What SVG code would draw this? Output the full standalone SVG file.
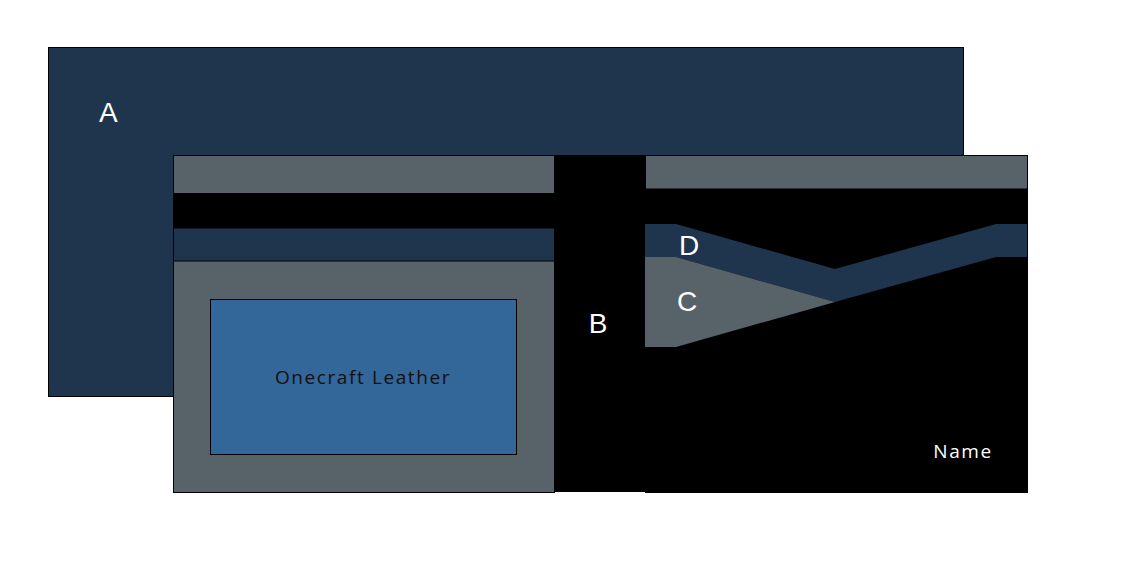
<svg xmlns="http://www.w3.org/2000/svg" width="1122" height="570" viewBox="0 0 1122 570">
<style>
.navy{fill:#1f354d}
.gray{fill:#576369}
.blk{fill:#000}
.edge{stroke:#000;stroke-width:1}
.lbl{font-family:"Liberation Sans",Arial,sans-serif;font-size:28px;fill:#fff}
.txt{font-family:"Open Sans","DejaVu Sans",sans-serif;font-size:19px;letter-spacing:1.6px}
</style>
<rect width="1122" height="570" fill="#fff"/>
<g id="A">
<rect x="48.5" y="47.5" width="915" height="349" class="navy edge"/>
<text x="99" y="122" class="lbl">A</text>
</g>
<g id="left-panel">
<rect x="173.5" y="155.5" width="381" height="337" class="gray edge"/>
<rect x="173.5" y="193" width="381" height="35" class="blk"/>
<rect x="173.5" y="228" width="381" height="33" class="navy edge"/>
<rect x="210.5" y="299.5" width="306" height="155" fill="#336699" class="edge"/>
<text x="363" y="384" text-anchor="middle" class="txt" fill="#111">Onecraft Leather</text>
</g>
<g id="B">
<rect x="554" y="155" width="91" height="337" class="blk"/>
<text x="598" y="333" text-anchor="middle" class="lbl">B</text>
</g>
<g id="right-panel">
<rect x="645.5" y="155.5" width="382" height="337" class="blk edge"/>
<rect x="645.5" y="155.5" width="382" height="33.5" class="gray edge"/>
<g id="D">
<polygon points="645,224 676,224 835,269 996,224 1027,224 1027,257 996,257 835,302 676,257 645,257" class="navy"/>
<text x="689" y="255" text-anchor="middle" class="lbl">D</text>
</g>
<g id="C">
<polygon points="645,257 676,257 835,302 676,347 645,347" class="gray"/>
<text x="687" y="311" text-anchor="middle" class="lbl">C</text>
</g>
<text x="963" y="458" text-anchor="middle" class="txt" fill="#fff">Name</text>
</g>
<g id="connectors"></g>
</svg>
